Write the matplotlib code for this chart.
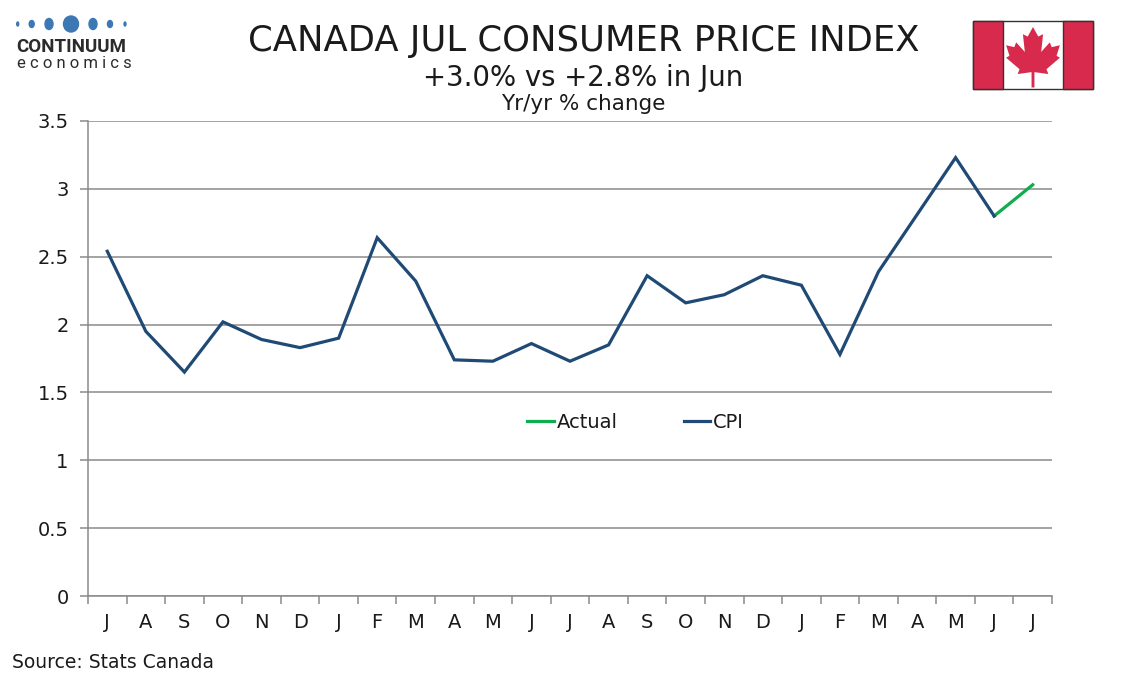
import matplotlib
matplotlib.use("Agg")
import matplotlib.pyplot as plt
from matplotlib.patches import Rectangle, Ellipse, Polygon
import numpy as np

months = ["J", "A", "S", "O", "N", "D", "J", "F", "M", "A", "M", "J", "J",
          "A", "S", "O", "N", "D", "J", "F", "M", "A", "M", "J", "J"]
cpi = [2.54, 1.95, 1.65, 2.02, 1.89, 1.83, 1.90, 2.64, 2.32, 1.74, 1.73, 1.86, 1.73,
       1.85, 2.36, 2.16, 2.22, 2.36, 2.29, 1.78, 2.39, 2.81, 3.23, 2.80]
actual = [2.80, 3.03]  # Jun, Jul (latest)
yticks = [0, 0.5, 1, 1.5, 2, 2.5, 3, 3.5]
ytick_labels = ["0", "0.5", "1", "1.5", "2", "2.5", "3", "3.5"]

title = "CANADA JUL CONSUMER PRICE INDEX"
subtitle = "+3.0% vs +2.8% in Jun"
subsub = "Yr/yr % change"
source = "Source: Stats Canada"

NAVY = "#1f4a75"
GREEN = "#10ad4f"
GRID = "#8a8a8a"
TXT = "#1a1a1a"

plt.rcParams['font.family'] = ['DejaVu Sans']

fig = plt.figure(figsize=(11.34, 6.8), dpi=100)
ax = fig.add_axes([88/1134, 1-596/680, (1052-88)/1134, (596-121)/680])

x = np.arange(len(months))
ax.plot(x[len(months)-len(actual):], actual, color=GREEN, lw=2.3, label="Actual",
        solid_joinstyle="miter", zorder=3)
ax.plot(x[:len(cpi)], cpi, color=NAVY, lw=2.3, label="CPI", solid_joinstyle="miter", zorder=3)

ax.set_xlim(-0.5, len(months)-0.5)
ax.set_ylim(0, 3.5)
ax.set_yticks(yticks)
ax.set_yticklabels(ytick_labels)
ax.yaxis.grid(True, color=GRID, lw=1.1)
ax.set_axisbelow(True)
ax.set_xticks(x)
ax.set_xticklabels(months)
ax.set_xticks(np.arange(-0.5, len(months), 1), minor=True)
ax.tick_params(axis='x', which='major', length=0, pad=12, labelsize=14, labelcolor=TXT)
ax.tick_params(axis='x', which='minor', length=6, width=1.1, color=GRID, direction='out')
ax.tick_params(axis='y', length=6, width=1.1, color=GRID, pad=8, labelsize=14, labelcolor=TXT)
for s in ["top", "right"]:
    ax.spines[s].set_visible(False)
for s in ["left", "bottom"]:
    ax.spines[s].set_color(GRID)
    ax.spines[s].set_linewidth(1.1)

leg = ax.legend(loc="center", bbox_to_anchor=(0.568, 0.366), ncol=2, frameon=False,
                fontsize=14, handlelength=1.35, handletextpad=0.15, columnspacing=3.4)
for t in leg.get_texts():
    t.set_color(TXT)

fig.text(0.5145, 1-41/680, title, ha="center", va="center", fontsize=25.5, color=TXT)
fig.text(0.5145, 1-78/680, subtitle, ha="center", va="center", fontsize=19.8, color=TXT)
fig.text(0.5145, 1-104/680, subsub, ha="center", va="center", fontsize=15.5, color=TXT)
fig.text(12/1134, 1-662/680, source, ha="left", va="center", fontsize=13.5, color=TXT)

# decoration overlay in pixel coords
ov = fig.add_axes([0, 0, 1, 1], zorder=5)
ov.set_xlim(0, 1134)
ov.set_ylim(680, 0)
ov.axis("off")

# logo dots
BLUE = "#3b78b4"
for cx, w, h in [(17.7, 2, 4), (31.7, 5, 7), (49, 8, 11), (71, 15, 16), (93, 8, 11), (110, 5, 7), (125, 2, 4)]:
    ov.add_patch(Ellipse((cx, 24), w, h, color=BLUE))
ov.text(16, 47, "CONTINUUM", fontsize=13.5, fontweight="bold", color="#2b2b2b",
        ha="left", va="center", family="Roboto")
ov.text(17, 64, "e c o n o m i c s", fontsize=12, color="#2b2b2b", ha="left", va="center",
        family="Roboto")

# flag
RED = "#d82a4c"
ov.add_patch(Rectangle((973, 21), 120, 68, facecolor="white", edgecolor="#333333", lw=1.0))
ov.add_patch(Rectangle((973, 21), 30, 68, facecolor=RED, edgecolor="#333333", lw=1.0))
ov.add_patch(Rectangle((1063, 21), 30, 68, facecolor=RED, edgecolor="#333333", lw=1.0))
half = [(0.0, 1.00), (0.11, 0.80), (0.21, 0.85), (0.17, 0.48), (0.35, 0.68), (0.39, 0.58),
        (0.56, 0.62), (0.49, 0.40), (0.56, 0.36), (0.28, 0.12), (0.32, 0.02), (0.03, 0.06),
        (0.03, -0.26)]
pts = half + [(-px, py) for px, py in reversed(half)]
sc = 48
leaf = [(1033 + px*sc, 75 - py*sc) for px, py in pts]
ov.add_patch(Polygon(leaf, closed=True, facecolor=RED, edgecolor="none"))

fig.savefig("out.png", dpi=100)
